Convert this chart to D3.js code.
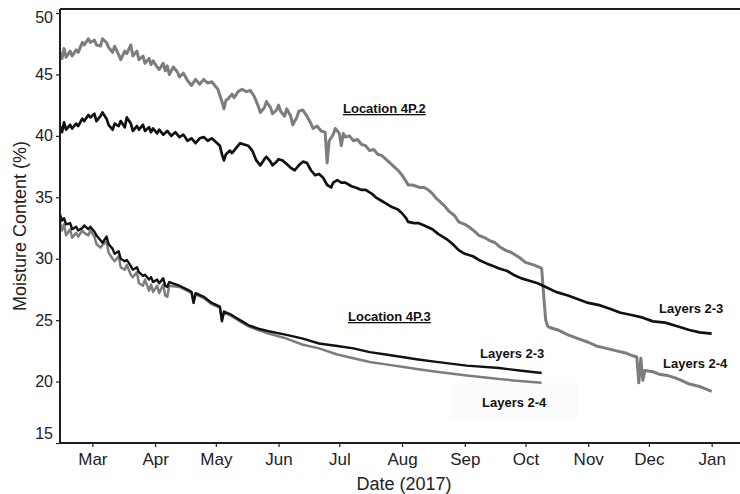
<!DOCTYPE html>
<html>
<head>
<meta charset="utf-8">
<script src="https://cdn.jsdelivr.net/npm/d3@7"></script>
<style>
  html, body { margin: 0; padding: 0; background: #fff; }
  svg { display: block; font-family: "Liberation Sans", Arial, sans-serif; }
</style>
</head>
<body>
<svg id="chart" width="740" height="494"></svg>
<script>
// ------------------------------------------------------------
// Data: moisture content (%) by date
// ------------------------------------------------------------

// Location 4P.2, layers 2-4 (grey)
const loc2Layers24 = [
  ["2017-02-13", 46.8], ["2017-02-14", 46.3], ["2017-02-15", 47.1], ["2017-02-16", 46.4],
  ["2017-02-18", 46.9], ["2017-02-19", 46.5], ["2017-02-21", 47.0], ["2017-02-22", 46.8],
  ["2017-02-24", 47.6], ["2017-02-25", 47.4], ["2017-02-27", 47.9], ["2017-02-28", 47.6],
  ["2017-03-02", 47.8], ["2017-03-03", 47.4], ["2017-03-05", 47.3], ["2017-03-06", 47.9],
  ["2017-03-08", 47.6], ["2017-03-09", 47.2], ["2017-03-11", 46.8], ["2017-03-12", 47.3],
  ["2017-03-14", 46.6], ["2017-03-15", 46.2], ["2017-03-17", 46.9], ["2017-03-18", 46.7],
  ["2017-03-20", 47.4], ["2017-03-21", 46.5], ["2017-03-23", 46.9], ["2017-03-24", 46.2],
  ["2017-03-26", 46.5], ["2017-03-27", 45.9], ["2017-03-29", 46.3], ["2017-03-30", 45.8],
  ["2017-03-31", 46.1], ["2017-04-02", 45.6], ["2017-04-03", 45.4], ["2017-04-05", 45.9],
  ["2017-04-06", 45.3], ["2017-04-07", 45.7], ["2017-04-08", 45.0], ["2017-04-10", 45.6],
  ["2017-04-12", 45.2], ["2017-04-13", 44.8], ["2017-04-15", 45.1], ["2017-04-17", 44.5],
  ["2017-04-19", 44.1], ["2017-04-21", 44.6], ["2017-04-23", 44.2], ["2017-04-25", 44.6],
  ["2017-04-27", 44.3], ["2017-04-29", 44.4], ["2017-05-01", 44.0], ["2017-05-02", 43.8],
  ["2017-05-04", 42.8], ["2017-05-05", 42.2], ["2017-05-06", 42.9], ["2017-05-07", 43.0],
  ["2017-05-09", 43.4], ["2017-05-10", 43.1], ["2017-05-12", 43.6], ["2017-05-14", 43.8],
  ["2017-05-16", 43.6], ["2017-05-18", 43.7], ["2017-05-20", 43.2], ["2017-05-22", 42.4],
  ["2017-05-23", 41.9], ["2017-05-25", 42.3], ["2017-05-26", 42.8], ["2017-05-28", 42.3],
  ["2017-05-29", 41.8], ["2017-05-31", 42.1], ["2017-06-01", 42.5], ["2017-06-02", 42.0],
  ["2017-06-04", 41.6], ["2017-06-05", 42.2], ["2017-06-07", 41.6], ["2017-06-08", 40.9],
  ["2017-06-10", 41.5], ["2017-06-11", 42.0], ["2017-06-13", 42.1], ["2017-06-15", 41.6],
  ["2017-06-17", 41.0], ["2017-06-18", 40.6], ["2017-06-20", 40.8], ["2017-06-22", 40.4],
  ["2017-06-24", 40.3], ["2017-06-25", 37.8], ["2017-06-26", 39.6], ["2017-06-28", 40.1],
  ["2017-06-29", 40.6], ["2017-07-01", 40.2], ["2017-07-02", 39.2], ["2017-07-03", 40.2],
  ["2017-07-04", 39.9], ["2017-07-06", 40.0], ["2017-07-08", 39.6], ["2017-07-10", 39.7],
  ["2017-07-12", 39.3], ["2017-07-14", 39.2], ["2017-07-16", 38.8], ["2017-07-18", 38.9],
  ["2017-07-20", 38.5], ["2017-07-22", 38.4], ["2017-07-24", 38.1], ["2017-07-26", 37.8],
  ["2017-07-28", 37.5], ["2017-07-30", 37.2], ["2017-08-01", 36.8], ["2017-08-03", 36.3],
  ["2017-08-04", 36.0], ["2017-08-06", 36.0], ["2017-08-08", 35.9], ["2017-08-10", 35.8],
  ["2017-08-12", 35.8], ["2017-08-14", 35.6], ["2017-08-16", 35.3], ["2017-08-18", 34.9],
  ["2017-08-20", 34.6], ["2017-08-22", 34.3], ["2017-08-24", 33.9], ["2017-08-27", 33.5],
  ["2017-08-29", 33.0], ["2017-09-01", 32.8], ["2017-09-03", 32.6], ["2017-09-06", 32.2],
  ["2017-09-08", 31.9], ["2017-09-11", 31.7], ["2017-09-13", 31.5], ["2017-09-16", 31.3],
  ["2017-09-18", 31.0], ["2017-09-21", 30.7], ["2017-09-24", 30.5], ["2017-09-28", 30.1],
  ["2017-10-01", 29.7], ["2017-10-05", 29.5], ["2017-10-08", 29.3], ["2017-10-09", 29.2],
  ["2017-10-10", 27.0], ["2017-10-11", 25.0], ["2017-10-12", 24.5], ["2017-10-13", 24.4],
  ["2017-10-17", 24.2], ["2017-10-22", 23.8], ["2017-10-27", 23.5], ["2017-11-01", 23.2],
  ["2017-11-05", 22.9], ["2017-11-10", 22.7], ["2017-11-15", 22.5], ["2017-11-20", 22.3],
  ["2017-11-23", 22.1], ["2017-11-25", 22.0], ["2017-11-26", 19.9], ["2017-11-27", 21.9],
  ["2017-11-28", 20.1], ["2017-11-29", 20.9], ["2017-12-03", 20.8], ["2017-12-06", 20.6],
  ["2017-12-10", 20.5], ["2017-12-14", 20.3], ["2017-12-17", 20.1], ["2017-12-21", 19.8],
  ["2017-12-26", 19.6], ["2017-12-29", 19.4], ["2018-01-01", 19.2]
];

// Location 4P.2, layers 2-3 (black)
const loc2Layers23 = [
  ["2017-02-13", 40.8], ["2017-02-14", 40.3], ["2017-02-15", 41.1], ["2017-02-16", 40.5],
  ["2017-02-18", 40.9], ["2017-02-19", 40.6], ["2017-02-21", 41.0], ["2017-02-22", 40.8],
  ["2017-02-24", 41.4], ["2017-02-25", 41.2], ["2017-02-27", 41.7], ["2017-02-28", 41.5],
  ["2017-03-02", 41.8], ["2017-03-03", 41.2], ["2017-03-05", 41.6], ["2017-03-06", 41.9],
  ["2017-03-08", 41.4], ["2017-03-09", 40.9], ["2017-03-11", 40.5], ["2017-03-12", 41.0],
  ["2017-03-14", 40.8], ["2017-03-15", 41.2], ["2017-03-17", 40.7], ["2017-03-18", 41.5],
  ["2017-03-20", 41.0], ["2017-03-21", 40.4], ["2017-03-23", 40.8], ["2017-03-24", 40.5],
  ["2017-03-26", 40.9], ["2017-03-27", 40.4], ["2017-03-29", 40.7], ["2017-03-30", 40.3],
  ["2017-03-31", 40.6], ["2017-04-02", 40.2], ["2017-04-03", 40.5], ["2017-04-05", 40.1],
  ["2017-04-07", 40.4], ["2017-04-09", 40.0], ["2017-04-11", 40.3], ["2017-04-13", 39.9],
  ["2017-04-15", 40.1], ["2017-04-17", 39.6], ["2017-04-19", 39.8], ["2017-04-21", 39.4],
  ["2017-04-23", 39.8], ["2017-04-25", 39.9], ["2017-04-27", 39.6], ["2017-04-29", 39.8],
  ["2017-05-01", 39.5], ["2017-05-03", 39.2], ["2017-05-04", 38.5], ["2017-05-05", 38.0],
  ["2017-05-06", 38.5], ["2017-05-08", 38.8], ["2017-05-09", 38.6], ["2017-05-11", 39.0],
  ["2017-05-13", 39.4], ["2017-05-15", 39.3], ["2017-05-17", 39.2], ["2017-05-19", 38.8],
  ["2017-05-21", 38.0], ["2017-05-23", 37.6], ["2017-05-25", 38.1], ["2017-05-26", 38.3],
  ["2017-05-28", 37.9], ["2017-05-29", 37.6], ["2017-05-31", 37.9], ["2017-06-01", 38.1],
  ["2017-06-03", 38.0], ["2017-06-05", 37.7], ["2017-06-07", 37.4], ["2017-06-09", 37.2],
  ["2017-06-11", 37.6], ["2017-06-13", 37.9], ["2017-06-15", 37.8], ["2017-06-17", 37.2],
  ["2017-06-19", 36.8], ["2017-06-21", 36.9], ["2017-06-23", 36.6], ["2017-06-25", 36.0],
  ["2017-06-27", 35.8], ["2017-06-28", 36.2], ["2017-06-30", 36.4], ["2017-07-02", 36.2],
  ["2017-07-04", 36.2], ["2017-07-07", 35.9], ["2017-07-09", 35.8], ["2017-07-12", 35.6],
  ["2017-07-14", 35.6], ["2017-07-17", 35.3], ["2017-07-19", 35.0], ["2017-07-22", 34.7],
  ["2017-07-24", 34.5], ["2017-07-27", 34.2], ["2017-07-30", 34.0], ["2017-08-01", 33.7],
  ["2017-08-03", 33.3], ["2017-08-04", 33.0], ["2017-08-07", 32.9], ["2017-08-09", 32.9],
  ["2017-08-12", 32.7], ["2017-08-16", 32.4], ["2017-08-19", 32.0], ["2017-08-23", 31.6],
  ["2017-08-26", 31.2], ["2017-08-29", 30.7], ["2017-09-01", 30.4], ["2017-09-05", 30.2],
  ["2017-09-08", 29.9], ["2017-09-12", 29.6], ["2017-09-15", 29.4], ["2017-09-18", 29.2],
  ["2017-09-22", 29.0], ["2017-09-25", 28.7], ["2017-09-29", 28.4], ["2017-10-03", 28.2],
  ["2017-10-07", 28.0], ["2017-10-11", 27.7], ["2017-10-16", 27.3], ["2017-10-22", 27.0],
  ["2017-10-27", 26.7], ["2017-11-01", 26.4], ["2017-11-07", 26.2], ["2017-11-12", 25.9],
  ["2017-11-17", 25.6], ["2017-11-23", 25.4], ["2017-11-28", 25.2], ["2017-12-03", 24.9],
  ["2017-12-09", 24.8], ["2017-12-15", 24.5], ["2017-12-21", 24.2], ["2017-12-26", 24.0],
  ["2018-01-01", 23.9]
];

// Location 4P.3, layers 2-3 (black)
const loc3Layers23 = [
  ["2017-02-13", 33.6], ["2017-02-14", 33.1], ["2017-02-15", 33.3], ["2017-02-16", 32.8],
  ["2017-02-18", 32.9], ["2017-02-19", 32.4], ["2017-02-21", 32.6], ["2017-02-22", 32.3],
  ["2017-02-24", 32.5], ["2017-02-25", 32.7], ["2017-02-27", 32.4], ["2017-02-28", 32.6],
  ["2017-03-02", 32.2], ["2017-03-03", 31.9], ["2017-03-05", 31.5], ["2017-03-06", 31.3],
  ["2017-03-08", 31.8], ["2017-03-09", 31.2], ["2017-03-11", 30.8], ["2017-03-12", 30.4],
  ["2017-03-14", 30.6], ["2017-03-15", 30.0], ["2017-03-17", 29.8], ["2017-03-18", 29.9],
  ["2017-03-20", 29.4], ["2017-03-21", 29.1], ["2017-03-23", 29.3], ["2017-03-24", 28.9],
  ["2017-03-26", 28.6], ["2017-03-27", 28.7], ["2017-03-29", 28.3], ["2017-03-30", 28.5],
  ["2017-03-31", 28.1], ["2017-04-02", 28.3], ["2017-04-03", 28.0], ["2017-04-05", 28.4],
  ["2017-04-06", 27.8], ["2017-04-07", 27.7], ["2017-04-08", 28.1], ["2017-04-13", 27.8],
  ["2017-04-18", 27.4], ["2017-04-19", 27.3], ["2017-04-20", 26.4], ["2017-04-21", 27.2],
  ["2017-04-25", 26.9], ["2017-04-29", 26.4], ["2017-05-03", 26.1], ["2017-05-04", 24.9],
  ["2017-05-05", 25.7], ["2017-05-08", 25.5], ["2017-05-11", 25.2], ["2017-05-14", 24.9],
  ["2017-05-17", 24.6], ["2017-05-22", 24.3], ["2017-05-27", 24.1], ["2017-06-05", 23.8],
  ["2017-06-13", 23.5], ["2017-06-21", 23.1], ["2017-06-30", 22.9], ["2017-07-08", 22.7],
  ["2017-07-16", 22.4], ["2017-07-24", 22.2], ["2017-08-01", 22.0], ["2017-08-09", 21.8],
  ["2017-08-18", 21.6], ["2017-09-02", 21.3], ["2017-09-18", 21.1], ["2017-09-28", 20.9],
  ["2017-10-09", 20.7]
];

// Location 4P.3, layers 2-4 (grey)
const loc3Layers24 = [
  ["2017-02-13", 33.0], ["2017-02-14", 32.3], ["2017-02-15", 32.8], ["2017-02-16", 31.9],
  ["2017-02-18", 32.4], ["2017-02-19", 31.7], ["2017-02-21", 32.1], ["2017-02-22", 31.8],
  ["2017-02-24", 32.3], ["2017-02-25", 32.1], ["2017-02-27", 31.9], ["2017-02-28", 32.3],
  ["2017-03-02", 31.8], ["2017-03-03", 31.2], ["2017-03-05", 30.9], ["2017-03-06", 31.1],
  ["2017-03-08", 31.4], ["2017-03-09", 30.5], ["2017-03-11", 30.0], ["2017-03-12", 29.8],
  ["2017-03-14", 30.2], ["2017-03-15", 29.3], ["2017-03-17", 29.1], ["2017-03-18", 29.5],
  ["2017-03-20", 28.7], ["2017-03-21", 28.5], ["2017-03-23", 28.9], ["2017-03-24", 28.0],
  ["2017-03-26", 27.8], ["2017-03-27", 28.3], ["2017-03-29", 27.4], ["2017-03-30", 27.9],
  ["2017-03-31", 27.3], ["2017-04-02", 27.8], ["2017-04-03", 27.2], ["2017-04-05", 27.9],
  ["2017-04-06", 27.0], ["2017-04-07", 26.9], ["2017-04-08", 27.8], ["2017-04-13", 27.7],
  ["2017-04-18", 27.3], ["2017-04-19", 27.2], ["2017-04-20", 26.5], ["2017-04-21", 27.1],
  ["2017-04-25", 26.8], ["2017-04-29", 26.3], ["2017-05-03", 26.0], ["2017-05-04", 25.0],
  ["2017-05-05", 25.6], ["2017-05-08", 25.4], ["2017-05-11", 25.1], ["2017-05-14", 24.8],
  ["2017-05-17", 24.5], ["2017-05-22", 24.2], ["2017-05-27", 23.9], ["2017-06-05", 23.5],
  ["2017-06-13", 23.0], ["2017-06-21", 22.7], ["2017-06-30", 22.2], ["2017-07-08", 21.9],
  ["2017-07-16", 21.6], ["2017-07-24", 21.4], ["2017-08-01", 21.2], ["2017-08-09", 21.0],
  ["2017-08-18", 20.8], ["2017-09-02", 20.5], ["2017-09-18", 20.2], ["2017-09-28", 20.05],
  ["2017-10-09", 19.9]
];

// Axis ticks
const monthTicks = ["2017-03-01", "2017-04-01", "2017-05-01", "2017-06-01", "2017-07-01",
  "2017-08-01", "2017-09-01", "2017-10-01", "2017-11-01", "2017-12-01", "2018-01-01"];
const yTicks = [15, 20, 25, 30, 35, 40, 45, 50];

// ------------------------------------------------------------
// Layout
// ------------------------------------------------------------
const parseDate = d3.timeParse("%Y-%m-%d");
const svg = d3.select("#chart");
const plotLeft = 60, plotRight = 740, plotTop = 9, plotBottom = 443;
const AXIS = "#1e1e1e";
const GREY = "#7d7d7d";
const BLACK = "#111111";

const x = d3.scaleTime()
  .domain([parseDate("2017-02-13"), parseDate("2018-01-15")])
  .range([plotLeft, plotRight]);

const y = d3.scaleLinear()
  .domain([15, 50])
  .range([plotBottom, 13]);

// faint box behind the lower "Layers 2-4" label (as in the source figure)
svg.append("rect")
  .attr("x", 452).attr("y", 383).attr("width", 126).attr("height", 36)
  .attr("fill", "#fbfbfb");

// --- lines ---
const line = d3.line()
  .x(function (d) { return x(parseDate(d[0])); })
  .y(function (d) { return y(d[1]); });

function drawSeries(data, color, width) {
  svg.append("path")
    .datum(data)
    .attr("fill", "none")
    .attr("stroke", color)
    .attr("stroke-width", width)
    .attr("stroke-linejoin", "round")
    .attr("d", line);
}

drawSeries(loc3Layers24, GREY, 2.5);
drawSeries(loc3Layers23, BLACK, 2.4);
drawSeries(loc2Layers24, GREY, 3);
drawSeries(loc2Layers23, BLACK, 2.7);

// --- axes ---
const yAxis = svg.append("g")
  .attr("transform", `translate(${plotLeft},0)`)
  .call(d3.axisLeft(y).tickValues(yTicks).tickSize(4).tickPadding(3).tickFormat(d3.format("d")));

const xAxis = svg.append("g")
  .attr("transform", `translate(0,${plotBottom})`)
  .call(d3.axisBottom(x)
    .tickValues(monthTicks.map(parseDate))
    .tickSize(4).tickPadding(6)
    .tickFormat(d3.timeFormat("%b")));

[yAxis, xAxis].forEach(function (g) {
  g.select(".domain").remove();
  g.selectAll(".tick line").attr("stroke", AXIS).attr("stroke-width", 1.2);
  g.selectAll(".tick text")
    .attr("fill", "#222")
    .attr("font-family", "\"Liberation Sans\", Arial, sans-serif");
});
yAxis.selectAll(".tick text").attr("font-size", 16);
xAxis.selectAll(".tick text").attr("font-size", 17);

// the outermost y labels sit slightly inside the frame in the original
yAxis.selectAll(".tick text")
  .filter(function (d) { return d === 50; }).attr("dy", "0.62em");
yAxis.selectAll(".tick text")
  .filter(function (d) { return d === 15; }).attr("dy", "-0.3em");

// frame: left, bottom, top
svg.append("line").attr("x1", plotLeft).attr("x2", plotLeft).attr("y1", plotTop).attr("y2", plotBottom + 1)
  .attr("stroke", AXIS).attr("stroke-width", 2);
svg.append("line").attr("x1", plotLeft).attr("x2", plotRight).attr("y1", plotBottom).attr("y2", plotBottom)
  .attr("stroke", AXIS).attr("stroke-width", 2);
svg.append("line").attr("x1", plotLeft).attr("x2", plotRight).attr("y1", plotTop).attr("y2", plotTop)
  .attr("stroke", AXIS).attr("stroke-width", 2);

// --- axis titles ---
svg.append("text")
  .attr("x", 404).attr("y", 490)
  .attr("text-anchor", "middle")
  .attr("font-size", 18).attr("fill", "#222")
  .text("Date (2017)");

svg.append("text")
  .attr("transform", "translate(26,226) rotate(-90)")
  .attr("text-anchor", "middle")
  .attr("font-size", 18).attr("fill", "#222")
  .text("Moisture Content (%)");

// --- annotations ---
const notes = [
  { text: "Location 4P.2", x: 343, y: 113, underline: true },
  { text: "Location 4P.3", x: 348, y: 321, underline: true },
  { text: "Layers 2-3", x: 480, y: 358 },
  { text: "Layers 2-4", x: 482, y: 407 },
  { text: "Layers 2-3", x: 659, y: 313 },
  { text: "Layers 2-4", x: 663, y: 368 }
];

svg.selectAll(".note")
  .data(notes)
  .enter()
  .append("text")
  .attr("class", "note")
  .attr("x", function (d) { return d.x; })
  .attr("y", function (d) { return d.y; })
  .attr("font-size", 13)
  .attr("font-weight", "bold")
  .attr("fill", "#111")
  .attr("text-decoration", function (d) { return d.underline ? "underline" : null; })
  .text(function (d) { return d.text; });
</script>
</body>
</html>
